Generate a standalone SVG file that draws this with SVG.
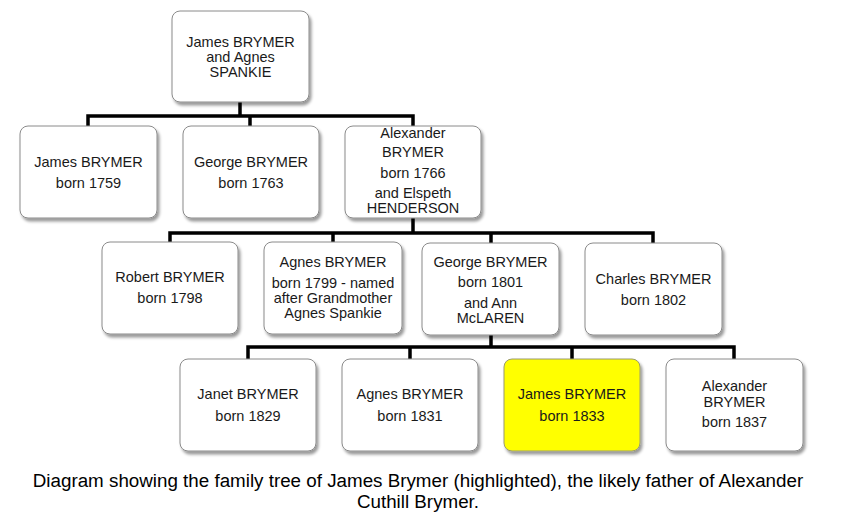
<svg xmlns="http://www.w3.org/2000/svg" width="848" height="526" viewBox="0 0 848 526">
<defs>
<filter id="sh" x="-10%" y="-10%" width="125%" height="130%">
<feDropShadow dx="2" dy="3" stdDeviation="1.8" flood-color="#000" flood-opacity="0.4"/>
</filter>
</defs>
<style>
.box{fill:#fff;stroke:#8a8a8a;stroke-width:1;filter:url(#sh)}
.hl{fill:#ffff00;stroke:#9a9a70}
.t{font-family:"Liberation Sans",Arial,sans-serif;font-size:14.5px;fill:#1a1a1a;text-anchor:middle}
.cap{font-family:"Liberation Sans",Arial,sans-serif;font-size:18.8px;fill:#000;text-anchor:middle}
.c{fill:none;stroke:#000;stroke-width:3.5;stroke-linejoin:miter;stroke-linecap:square}
</style>
<rect width="848" height="526" fill="#fff"/>
<g id="connectors">
<path class="c" d="M240,102V116M88,126V116H413V126M250,116V126"/>
<path class="c" d="M413,218V233M170,243V233H653V243M333,233V243M491,233V243"/>
<path class="c" d="M491,335V347M248,358V347H734V358M410,347V358M572,347V358"/>
</g>
<g id="n-james-agnes">
<rect class="box" x="172" y="11" width="137" height="91" rx="8"/>
<text class="t" x="240.5" y="47">James BRYMER</text>
<text class="t" x="240.5" y="62">and Agnes</text>
<text class="t" x="240.5" y="77">SPANKIE</text>
</g>
<g id="n-james-1759">
<rect class="box" x="20" y="126" width="137" height="92" rx="8"/>
<text class="t" x="88.5" y="167">James BRYMER</text>
<text class="t" x="88.5" y="188">born 1759</text>
</g>
<g id="n-george-1763">
<rect class="box" x="183" y="126" width="136" height="92" rx="8"/>
<text class="t" x="251" y="167">George BRYMER</text>
<text class="t" x="251" y="188">born 1763</text>
</g>
<g id="n-alexander-1766">
<rect class="box" x="345" y="126" width="136" height="92" rx="8"/>
<text class="t" x="413" y="138">Alexander</text>
<text class="t" x="413" y="157">BRYMER</text>
<text class="t" x="413" y="178">born 1766</text>
<text class="t" x="413" y="198">and Elspeth</text>
<text class="t" x="413" y="213">HENDERSON</text>
</g>
<g id="n-robert-1798">
<rect class="box" x="102" y="242" width="136" height="92" rx="8"/>
<text class="t" x="170" y="282">Robert BRYMER</text>
<text class="t" x="170" y="303">born 1798</text>
</g>
<g id="n-agnes-1799">
<rect class="box" x="264" y="242" width="138" height="92" rx="8"/>
<text class="t" x="333" y="267">Agnes BRYMER</text>
<text class="t" x="333" y="288">born 1799 - named</text>
<text class="t" x="333" y="303">after Grandmother</text>
<text class="t" x="333" y="318">Agnes Spankie</text>
</g>
<g id="n-george-1801">
<rect class="box" x="422" y="243" width="137" height="92" rx="8"/>
<text class="t" x="490.5" y="267">George BRYMER</text>
<text class="t" x="490.5" y="287">born 1801</text>
<text class="t" x="490.5" y="308">and Ann</text>
<text class="t" x="490.5" y="323">McLAREN</text>
</g>
<g id="n-charles-1802">
<rect class="box" x="585" y="243" width="137" height="92" rx="8"/>
<text class="t" x="653.5" y="284">Charles BRYMER</text>
<text class="t" x="653.5" y="305">born 1802</text>
</g>
<g id="n-janet-1829">
<rect class="box" x="180" y="359" width="136" height="92" rx="8"/>
<text class="t" x="248" y="399">Janet BRYMER</text>
<text class="t" x="248" y="421">born 1829</text>
</g>
<g id="n-agnes-1831">
<rect class="box" x="342" y="359" width="136" height="92" rx="8"/>
<text class="t" x="410" y="399">Agnes BRYMER</text>
<text class="t" x="410" y="421">born 1831</text>
</g>
<g id="n-james-1833">
<rect class="box hl" x="504" y="359" width="136" height="92" rx="8"/>
<text class="t" x="572" y="399">James BRYMER</text>
<text class="t" x="572" y="421">born 1833</text>
</g>
<g id="n-alexander-1837">
<rect class="box" x="666" y="359" width="137" height="92" rx="8"/>
<text class="t" x="734.5" y="391">Alexander</text>
<text class="t" x="734.5" y="407">BRYMER</text>
<text class="t" x="734.5" y="427">born 1837</text>
</g>
<g id="caption">
<text class="cap" x="418" y="487">Diagram showing the family tree of James Brymer (highlighted), the likely father of Alexander</text>
<text class="cap" x="418" y="508">Cuthill Brymer.</text>
</g>
</svg>
